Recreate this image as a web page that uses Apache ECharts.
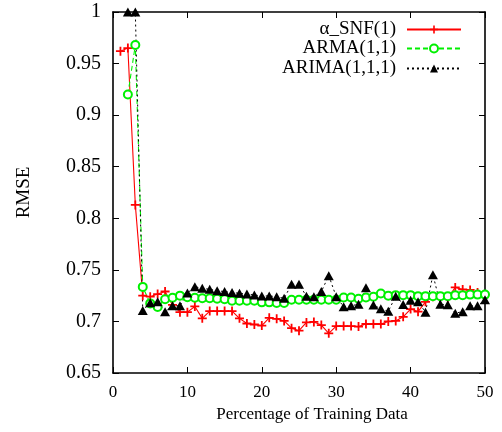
<!DOCTYPE html>
<html>
<head>
<meta charset="utf-8">
<script src="https://cdn.jsdelivr.net/npm/echarts@6/dist/echarts.min.js"></script>
<style>
html,body{margin:0;padding:0;background:#fff;}
#c{width:502px;height:432px;}
</style>
</head>
<body>
<div id="c"></div>
<script>
const xTicks = [0, 10, 20, 30, 40, 50];
const yTicks = [0.65, 0.7, 0.75, 0.8, 0.85, 0.9, 0.95, 1];

const snfX = [1,2,3,4,5,6,7,8,9,10,11,12,13,14,15,16,17,18,19,20,21,22,23,24,25,26,27,28,29,30,31,32,33,34,35,36,37,38,39,40,41,42,43,44,45,46,47,48,49,50];
const snfY = [0.962,0.965,0.813,0.725,0.724,0.7265,0.729,0.716,0.709,0.709,0.7145,0.703,0.710,0.710,0.710,0.710,0.703,0.698,0.697,0.696,0.7035,0.7025,0.7005,0.6935,0.691,0.699,0.6995,0.6965,0.6885,0.6955,0.6955,0.6955,0.695,0.6975,0.6975,0.6975,0.700,0.7005,0.7045,0.712,0.7095,0.719,0.724,0.724,0.7225,0.733,0.731,0.7305,0.728,0.726];

const armaX = [2,3,4,5,6,7,8,9,10,11,12,13,14,15,16,17,18,19,20,21,22,23,24,25,26,27,28,29,30,31,32,33,34,35,36,37,38,39,40,41,42,43,44,45,46,47,48,49,50];
const armaY = [0.920,0.968,0.7335,0.7175,0.714,0.7215,0.723,0.725,0.7235,0.723,0.7225,0.7225,0.722,0.7215,0.720,0.720,0.720,0.720,0.7185,0.7185,0.7178,0.7178,0.721,0.721,0.721,0.721,0.721,0.721,0.721,0.7232,0.7232,0.722,0.7232,0.724,0.727,0.725,0.7255,0.7255,0.7255,0.7245,0.7245,0.7245,0.7245,0.7245,0.7255,0.7255,0.726,0.726,0.726];

const arimaX = [2,3,4,5,6,7,8,9,10,11,12,13,14,15,16,17,18,19,20,21,22,23,24,25,26,27,28,29,30,31,32,33,34,35,36,37,38,39,40,41,42,43,44,45,46,47,48,49,50];
const arimaY = [1.0,1.0,0.7105,0.7182,0.7192,0.7095,0.7152,0.7152,0.7275,0.7337,0.7321,0.7311,0.7298,0.7289,0.728,0.7273,0.7266,0.7256,0.7247,0.7247,0.724,0.7224,0.736,0.736,0.7245,0.724,0.7289,0.7444,0.724,0.7143,0.7153,0.7166,0.7326,0.716,0.7122,0.7098,0.7245,0.7165,0.7205,0.7192,0.709,0.7453,0.7166,0.7162,0.708,0.7095,0.7152,0.7152,0.721];

const names = ['α_SNF(1)', 'ARMA(1,1)', 'ARIMA(1,1,1)'];

function pairs(xs, ys){ return xs.map((x,i)=>[x, ys[i]]); }

const FONT = 'Liberation Serif';
const plusPath = 'path://M4,0H6V4H10V6H6V10H4V6H0V4H4Z';
const GREEN = '#00f000';

const chart = echarts.init(document.getElementById('c'), null, {renderer:'canvas'});

const baseAxisLine = {show:true, onZero:false, lineStyle:{color:'#000', width:1.6}};
const baseTick = {show:true, inside:true, length:6, lineStyle:{color:'#000', width:1}};

function legendFor(i, top){
  return {
    data:[names[i]], right:40, top:top, align:'right', orient:'horizontal',
    padding:0, itemWidth:54, itemHeight:10, selectedMode:false,
    textStyle:{fontFamily:FONT, fontSize:19, color:'#000', padding:[0,6,0,0]}
  };
}

chart.setOption({
  animation:false,
  backgroundColor:'#fff',
  grid:{left:113, right:17, top:12, bottom:59, containLabel:false},
  legend:[legendFor(0,20), legendFor(1,39), legendFor(2,59)],
  xAxis:[{
    type:'value', min:xTicks[0], max:xTicks[xTicks.length-1], interval:10,
    position:'bottom',
    axisLine:baseAxisLine, axisTick:baseTick, splitLine:{show:false},
    axisLabel:{fontFamily:FONT, fontSize:17, color:'#000', margin:11},
    name:'Percentage of Training Data', nameLocation:'middle', nameGap:29,
    nameTextStyle:{fontFamily:FONT, fontSize:17, color:'#000', padding:[0,0,0,26]}
  },{
    type:'value', min:xTicks[0], max:xTicks[xTicks.length-1], interval:10,
    position:'top',
    axisLine:baseAxisLine, axisTick:baseTick, splitLine:{show:false},
    axisLabel:{show:false}
  }],
  yAxis:[{
    type:'value', min:yTicks[0], max:yTicks[yTicks.length-1], interval:0.05,
    position:'left',
    axisLine:baseAxisLine, axisTick:baseTick, splitLine:{show:false},
    axisLabel:{fontFamily:FONT, fontSize:20, color:'#000', margin:12},
    name:'RMSE', nameLocation:'middle', nameGap:79,
    nameTextStyle:{fontFamily:FONT, fontSize:19, color:'#000'}
  },{
    type:'value', min:yTicks[0], max:yTicks[yTicks.length-1], interval:0.05,
    position:'right',
    axisLine:baseAxisLine, axisTick:baseTick, splitLine:{show:false},
    axisLabel:{show:false}
  }],
  series:[{
    name:names[0], type:'line', data:pairs(snfX, snfY),
    symbol:plusPath, symbolSize:9, showAllSymbol:true,
    lineStyle:{color:'#ff0000', width:1.1, type:'solid'},
    itemStyle:{color:'#ff0000'},
    clip:true
  },{
    name:names[1], type:'line', data:pairs(armaX, armaY),
    symbol:'emptyCircle', symbolSize:8, showAllSymbol:true,
    lineStyle:{color:GREEN, width:1.1, type:[5,3]},
    itemStyle:{color:GREEN, borderColor:GREEN, borderWidth:1.2},
    clip:true
  },{
    name:names[2], type:'line', data:pairs(arimaX, arimaY),
    symbol:'triangle', symbolSize:[10,9], showAllSymbol:true,
    lineStyle:{color:'#000', width:1, type:[2,3]},
    itemStyle:{color:'#000'},
    clip:true
  }]
});
</script>
</body>
</html>
